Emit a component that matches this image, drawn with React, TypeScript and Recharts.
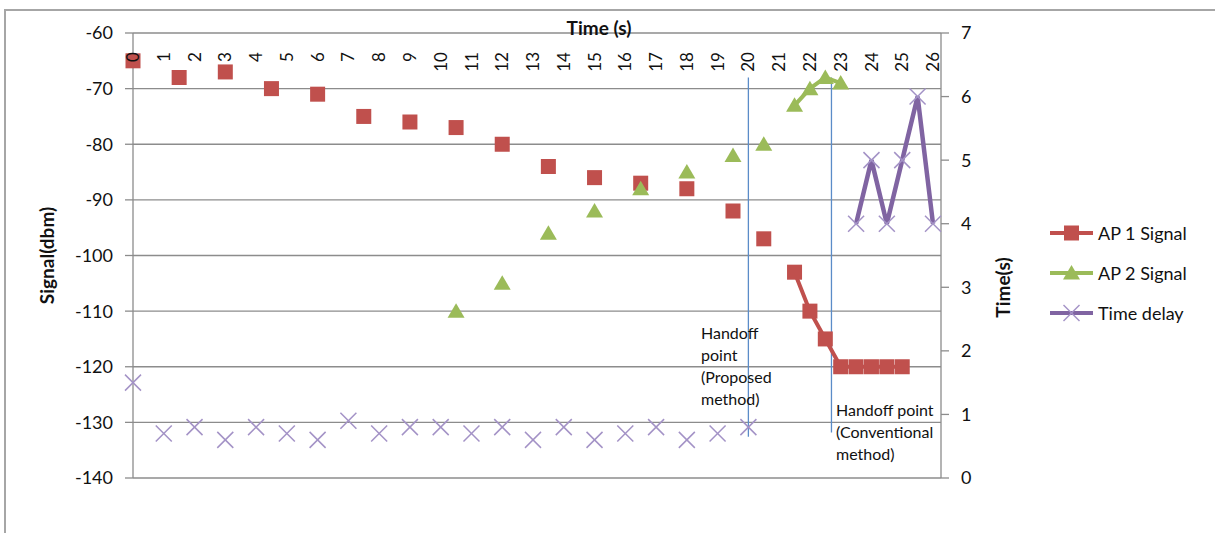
import { ComposedChart, Line, XAxis, YAxis, CartesianGrid, ReferenceLine, Legend } from "recharts";

// rows every 0.5 s, blanks where a series has no reading (so Excel-style gaps stay unconnected)
const time = [
  0, 0.5, 1, 1.5, 2, 2.5, 3, 3.5, 4, 4.5,
  5, 5.5, 6, 6.5, 7, 7.5, 8, 8.5, 9, 9.5,
  10, 10.5, 11, 11.5, 12, 12.5, 13, 13.5, 14, 14.5,
  15, 15.5, 16, 16.5, 17, 17.5, 18, 18.5, 19, 19.5,
  20, 20.5, 21, 21.5, 22, 22.5, 23, 23.5, 24, 24.5,
  25, 25.5, 26,
];
const ap1Signal = [
  -65, null, null, -68, null, null, -67, null, null, -70,
  null, null, -71, null, null, -75, null, null, -76, null,
  null, -77, null, null, -80, null, null, -84, null, null,
  -86, null, null, -87, null, null, -88, null, null, -92,
  null, -97, null, -103, -110, -115, -120, -120, -120, -120,
  -120, null, null,
];
const ap2Signal = [
  null, null, null, null, null, null, null, null, null, null,
  null, null, null, null, null, null, null, null, null, null,
  null, -110, null, null, -105, null, null, -96, null, null,
  -92, null, null, -88, null, null, -85, null, null, -82,
  null, -80, null, -73, -70, -68, -69, null, null, null,
  null, null, null,
];
const timeDelay = [
  1.5, null, 0.7, null, 0.8, null, 0.6, null, 0.8, null,
  0.7, null, 0.6, null, 0.9, null, 0.7, null, 0.8, null,
  0.8, null, 0.7, null, 0.8, null, 0.6, null, 0.8, null,
  0.6, null, 0.7, null, 0.8, null, 0.6, null, 0.7, null,
  0.8, null, null, null, null, null, null, 4, 5, 4,
  5, 6, 4,
];

const timeTicks = [0, 1, 2, 3, 4, 5, 6, 7, 8, 9, 10, 11, 12, 13, 14, 15, 16, 17, 18, 19, 20, 21, 22, 23, 24, 25, 26];
const signalTicks = [-140, -130, -120, -110, -100, -90, -80, -70, -60];
const delayTicks = [0, 1, 2, 3, 4, 5, 6, 7];

// handoff markers (time, signal top, signal bottom)
const proposedHandoff = { x: 20, top: -68, bottom: -132.6 };
const conventionalHandoff = { x: 22.7, top: -68, bottom: -131.8 };

const data = time.map((t, i) => ({
  time: t,
  ap1: ap1Signal[i],
  ap2: ap2Signal[i],
  delay: timeDelay[i],
}));

const RED = "#C0504D";
const GREEN = "#9BBB59";
const PURPLE = "#8064A2";
const LAVENDER = "#A392C6";
const BLUE = "#5B8CC8";
const GRID = "#8C8C8C";
const FONT = "Lato, 'Liberation Sans', sans-serif";
const PLOT_TOP = 33;

function Square({ cx, cy }: any) {
  if (cx == null || cy == null) return null;
  return <rect x={cx - 7.5} y={cy - 7.5} width={15} height={15} fill={RED} />;
}

function Triangle({ cx, cy }: any) {
  if (cx == null || cy == null) return null;
  return <polygon points={`${cx},${cy - 8} ${cx + 8.5},${cy + 6.5} ${cx - 8.5},${cy + 6.5}`} fill={GREEN} />;
}

function Cross({ cx, cy }: any) {
  if (cx == null || cy == null) return null;
  const s = 8;
  return (
    <g stroke={LAVENDER} strokeWidth={1.5}>
      <line x1={cx - s} y1={cy - s} x2={cx + s} y2={cy + s} />
      <line x1={cx - s} y1={cy + s} x2={cx + s} y2={cy - s} />
    </g>
  );
}

function TimeTick({ x, payload }: any) {
  const y = PLOT_TOP + 19;
  return (
    <text
      x={x}
      y={y}
      transform={`rotate(-90 ${x} ${y})`}
      textAnchor="end"
      dy="0.36em"
      fontSize={17}
      fontFamily={FONT}
      fill="#111"
    >
      {payload.value}
    </text>
  );
}

const legendItems = [
  { name: "AP 1 Signal", color: RED, Marker: Square },
  { name: "AP 2 Signal", color: GREEN, Marker: Triangle },
  { name: "Time delay", color: PURPLE, Marker: Cross },
];

function LegendBox() {
  return (
    <div style={{ fontFamily: FONT, fontSize: 18, color: "#111" }}>
      {legendItems.map(({ name, color, Marker }) => (
        <div key={name} style={{ display: "flex", alignItems: "center", height: 40 }}>
          <svg width={46} height={24}>
            <line x1={0} y1={12} x2={43} y2={12} stroke={color} strokeWidth={4} />
            <Marker cx={21.5} cy={12} />
          </svg>
          <span style={{ marginLeft: 2 }}>{name}</span>
        </div>
      ))}
    </div>
  );
}

const note: React.CSSProperties = {
  position: "absolute",
  fontFamily: FONT,
  fontSize: 16,
  lineHeight: "22px",
  color: "#111",
  whiteSpace: "nowrap",
};

export default function App() {
  return (
    <div style={{ position: "absolute", left: 0, top: 0, width: 1215, height: 533, background: "#fff", overflow: "hidden" }}>
      <div style={{ position: "absolute", left: 4, top: 9, width: 1211, height: 0, borderTop: "2px solid #A6A6A6" }} />
      <div style={{ position: "absolute", left: 4, top: 9, width: 0, height: 524, borderLeft: "2px solid #A6A6A6" }} />
      <ComposedChart width={1215} height={533} data={data} margin={{ top: PLOT_TOP - 20, right: 0, bottom: 55, left: 0 }}>
        <CartesianGrid yAxisId="left" vertical={false} stroke={GRID} strokeWidth={1.3} />
        <XAxis
          dataKey="time"
          type="number"
          orientation="top"
          domain={[0, 26]}
          ticks={timeTicks}
          height={20}
          padding={{ left: 0, right: 8 }}
          axisLine={false}
          tickLine={false}
          tick={<TimeTick />}
          interval={0}
          label={{
            content: () => (
              <text x={599} y={27} textAnchor="middle" dominantBaseline="central" fontSize={19} fontWeight="bold" fontFamily={FONT} fill="#111">
                Time (s)
              </text>
            ),
          }}
        />
        <YAxis
          yAxisId="left"
          width={133}
          domain={[-140, -60]}
          ticks={signalTicks}
          interval={0}
          tickSize={8}
          tickMargin={12}
          axisLine={{ stroke: GRID, strokeWidth: 1.3 }}
          tickLine={{ stroke: GRID, strokeWidth: 1.3 }}
          tick={{ fontSize: 18, fill: "#111", fontFamily: FONT }}
          label={{
            content: ({ viewBox }: any) => {
              const cx = viewBox.x + 46;
              const cy = viewBox.y + viewBox.height / 2;
              return (
                <text x={cx} y={cy} transform={`rotate(-90 ${cx} ${cy})`} textAnchor="middle" dominantBaseline="central" fontSize={19} fontWeight="bold" fontFamily={FONT} fill="#111">
                  Signal(dbm)
                </text>
              );
            },
          }}
        />
        <YAxis
          yAxisId="right"
          orientation="right"
          width={274}
          domain={[0, 7]}
          ticks={delayTicks}
          interval={0}
          tickSize={8}
          tickMargin={12}
          axisLine={{ stroke: GRID, strokeWidth: 1.3 }}
          tickLine={{ stroke: GRID, strokeWidth: 1.3 }}
          tick={{ fontSize: 18, fill: "#111", fontFamily: FONT }}
          label={{
            content: ({ viewBox }: any) => {
              const cx = viewBox.x + 61;
              const cy = viewBox.y + viewBox.height / 2 + 32;
              return (
                <text x={cx} y={cy} transform={`rotate(-90 ${cx} ${cy})`} textAnchor="middle" dominantBaseline="central" fontSize={19} fontWeight="bold" fontFamily={FONT} fill="#111">
                  Time(s)
                </text>
              );
            },
          }}
        />
        <ReferenceLine
          yAxisId="left"
          segment={[{ x: proposedHandoff.x, y: proposedHandoff.top }, { x: proposedHandoff.x, y: proposedHandoff.bottom }]}
          stroke={BLUE}
          strokeWidth={1.3}
          ifOverflow="visible"
        />
        <ReferenceLine
          yAxisId="left"
          segment={[{ x: conventionalHandoff.x, y: conventionalHandoff.top }, { x: conventionalHandoff.x, y: conventionalHandoff.bottom }]}
          stroke={BLUE}
          strokeWidth={1.3}
          ifOverflow="visible"
        />
        <Line yAxisId="left" dataKey="ap1" name="AP 1 Signal" stroke={RED} strokeWidth={4} dot={(p: any) => <Square key={p.key} {...p} />} activeDot={false} isAnimationActive={false} />
        <Line yAxisId="left" dataKey="ap2" name="AP 2 Signal" stroke={GREEN} strokeWidth={4} dot={(p: any) => <Triangle key={p.key} {...p} />} activeDot={false} isAnimationActive={false} />
        <Line yAxisId="right" dataKey="delay" name="Time delay" stroke={PURPLE} strokeWidth={4.5} dot={(p: any) => <Cross key={p.key} {...p} />} activeDot={false} isAnimationActive={false} />
        <Legend
          layout="vertical"
          align="center"
          verticalAlign="middle"
          wrapperStyle={{ left: 1050, top: 213, width: 160 }}
          content={() => <LegendBox />}
        />
      </ComposedChart>
      <div style={{ ...note, left: 701, top: 322 }}>
        Handoff
        <br />
        point
        <br />
        (Proposed
        <br />
        method)
      </div>
      <div style={{ ...note, left: 836, top: 399 }}>
        Handoff point
        <br />
        (Conventional
        <br />
        method)
      </div>
    </div>
  );
}
